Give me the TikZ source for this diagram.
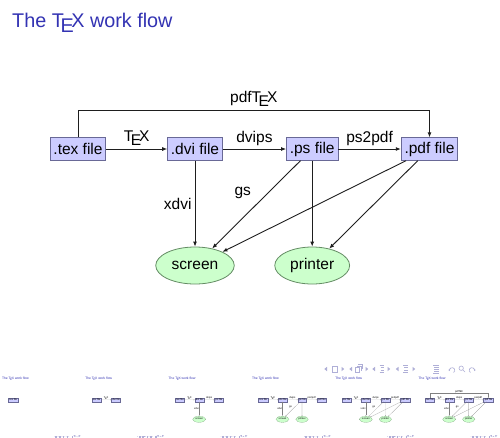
\documentclass[tikz,border=0pt]{standalone}
\usepackage{fontspec}
\setmainfont{Liberation Sans}
\usetikzlibrary{arrows.meta,shapes.geometric}
\definecolor{struct}{RGB}{51,51,179}
\definecolor{boxfill}{RGB}{204,204,255}
\definecolor{boxdraw}{RGB}{105,105,150}
\definecolor{ellfill}{RGB}{204,255,204}
\definecolor{elldraw}{RGB}{100,140,100}
\definecolor{navc}{RGB}{175,175,215}
\definecolor{linec}{RGB}{30,30,30}
\tikzset{
  titlef/.style={font=\fontsize{19.8}{23}\selectfont, text=struct, inner sep=0pt},
  filebox/.style={rectangle, draw=boxdraw, fill=boxfill, thinlw,
    font=\fontsize{15.5}{18}\selectfont, inner xsep=3.3pt, inner ysep=0pt,
    minimum height=22.5pt},
  outell/.style={ellipse, draw=elldraw, fill=ellfill, thinlw,
    font=\fontsize{15.5}{18}\selectfont, inner xsep=4.5pt, inner ysep=0pt,
    minimum height=37pt},
  lab/.style={font=\fontsize{15.5}{18}\selectfont, inner sep=3pt},
}
\newcommand\navsyms{%
  \begin{scope}[navc, navlw]
  \fill (327,-366.8) -- (324.3,-369) -- (327,-371.2) -- cycle;
  \draw (332.5,-366) rectangle (337.5,-372);
  \fill (341.5,-366.8) -- (344.2,-369) -- (341.5,-371.2) -- cycle;
  \fill (352,-366.8) -- (349.3,-369) -- (352,-371.2) -- cycle;
  \draw (355,-367.5) rectangle (359.5,-372);
  \draw (356.5,-366) -- (361,-366) -- (361,-370.5);
  \draw (358,-364.5) -- (362.5,-364.5) -- (362.5,-369);
  \fill (365.5,-366.8) -- (368.2,-369) -- (365.5,-371.2) -- cycle;
  \fill (375,-366.8) -- (372.3,-369) -- (375,-371.2) -- cycle;
  \draw (379.5,-365) -- (384,-365) (380.5,-367.5) -- (384,-367.5)
        (380.5,-370) -- (384,-370) (379.5,-372.5) -- (384,-372.5);
  \fill (387.5,-366.8) -- (390.2,-369) -- (387.5,-371.2) -- cycle;
  \fill (398.5,-366.8) -- (395.8,-369) -- (398.5,-371.2) -- cycle;
  \draw (403,-365) -- (407.5,-365) (404,-367.5) -- (407.5,-367.5)
        (404,-370) -- (407.5,-370) (403,-372.5) -- (407.5,-372.5);
  \fill (412.5,-366.8) -- (415.2,-369) -- (412.5,-371.2) -- cycle;
  \draw (433,-365) -- (438.5,-365) (434,-367) -- (438.5,-367)
        (434,-369) -- (438.5,-369) (434,-371) -- (438.5,-371)
        (433,-373) -- (438.5,-373);
  \draw[-{Latex[length=1.6pt,width=2pt]}] (453.5,-372.5) arc (-60:200:2.6);
  \draw (461.2,-368.2) circle (2.2);
  \draw (462.8,-369.8) -- (465,-372);
  \draw[-{Latex[length=1.6pt,width=2pt]}] (470.5,-372.5) arc (240:-20:2.6);
  \end{scope}}
\newcommand\slidecontent[2]{%
  \begin{scope}[#2]
  \node[titlef, anchor=base west] (title) at (12,-27) {The \TeX\ work flow};
  \node[filebox] (tex) at (78,-149) {.tex file};
  \ifnum#1>1
    \node[filebox] (dvi) at (195,-149) {.dvi file};
    \draw[lw, arr] (tex) -- node[lab, above] {\TeX} (dvi);
  \fi
  \ifnum#1>2
    \node[filebox] (ps) at (312.2,-149) {.ps file};
    \node[outell] (screen) at (195,-265.5) {screen};
    \draw[lw, arr] (dvi) -- node[lab, above] {dvips} (ps);
    \draw[lw, arr] (dvi) -- node[lab, left] {xdvi} (screen);
  \fi
  \ifnum#1>3
    \node[filebox] (pdf) at (429.5,-149) {.pdf file};
    \node[outell] (printer) at (312.2,-265.5) {printer};
    \draw[lw, arr] (ps) -- node[lab, above] {ps2pdf} (pdf);
    \draw[lw, arr] (ps) -- node[lab, above left, inner sep=5pt] {gs} (screen);
    \draw[lw, arr] (ps) -- (printer);
  \fi
  \ifnum#1>4
    \draw[lw, arr] (pdf) -- (screen);
    \draw[lw, arr] (pdf) -- (printer);
  \fi
  \ifnum#1>5
    \coordinate (topline) at (0,-110);
    \draw[lw, arr] (tex.north) |- node[lab, pos=0.75, above] {pdf\TeX}
      (topline -| pdf.north) -- (pdf.north);
  \fi
  \navsyms
  \end{scope}}
\begin{document}
\begin{tikzpicture}[x=1pt, y=1pt]
\useasboundingbox (0,0) rectangle (500,-437);
\fill[white] (0,0) rectangle (500,-437);
\slidecontent{6}{lw/.style={line width=0.9pt, draw=linec}, thinlw/.style={line width=0.8pt},
  navlw/.style={line width=0.6pt},
  arr/.style={-{Latex[length=5pt,width=4pt]}}}
\foreach \k in {1,...,6}{
  \begin{scope}[shift={({(\k-1)*83.333},-375)}, scale=1/6, transform shape]
  \slidecontent{\k}{lw/.style={line width=0.12pt, draw=gray}, thinlw/.style={line width=0.1pt},
    navlw/.style={line width=0.1pt},
    arr/.style={-{Latex[length=0.9pt,width=0.7pt]}}}
  \end{scope}
}
\end{tikzpicture}
\end{document}
